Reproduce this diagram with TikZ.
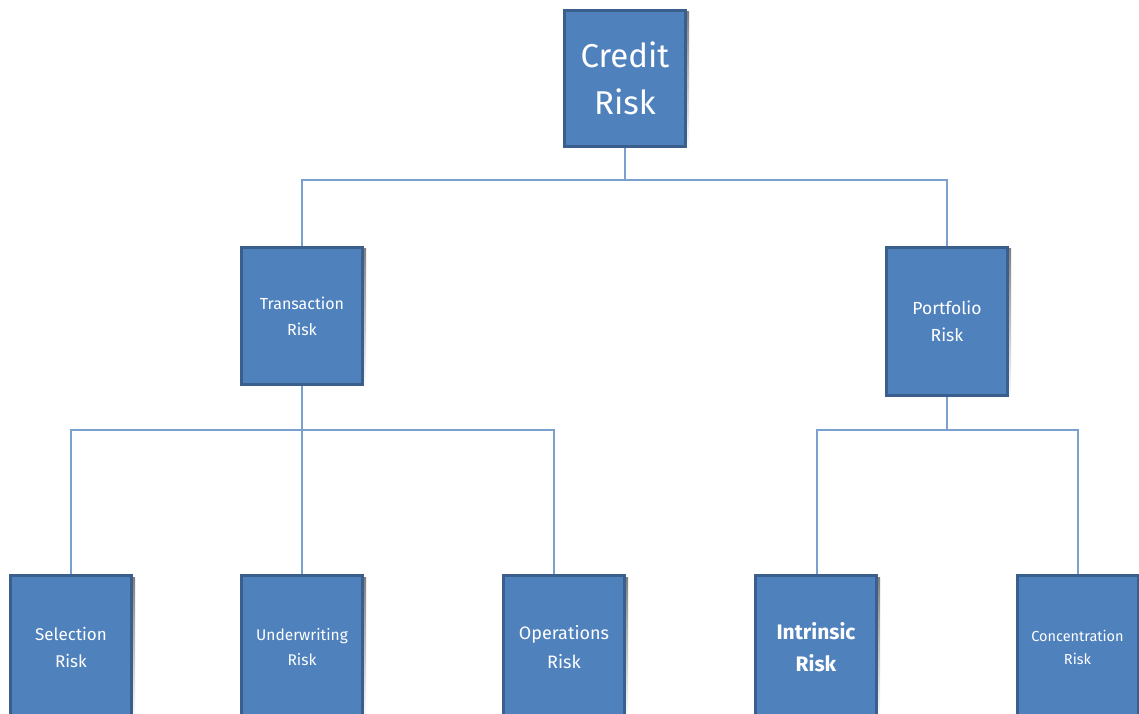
\documentclass[tikz,border=0pt]{standalone}
\usepackage{fontspec}
\setmainfont{Fira Sans}
\definecolor{boxfill}{HTML}{4F81BD}
\definecolor{boxedge}{HTML}{3A5F8D}
\definecolor{shade}{HTML}{B3BECE}
\definecolor{linec}{HTML}{7BA0CD}
\begin{document}
\begin{tikzpicture}[x=1pt,y=-1pt,
  riskbox/.style={draw=boxedge, line width=3pt, fill=boxfill, text=white,
    align=center, inner sep=0pt, minimum width=121pt},
  conn/.style={draw=linec, line width=2pt}]
\useasboundingbox (0,0) rectangle (1139,713);
\begin{scope}
\clip (0,0) rectangle (1139,713);
% shadows
\foreach \a/\b/\c/\d in {565/11/689/150, 242/248/366/388, 887/248/1011/399, 11/577/135/720, 242/577/366/720, 504/577/628/720, 756/577/880/720, 1018/577/1142/720}
  \fill[shade] (\a,\b) rectangle (\c,\d);
\node[riskbox, minimum height=136pt, font=\fontsize{33}{47}\selectfont] (credit) at (625,78.5) {Credit\\Risk};
\node[riskbox, minimum height=137pt, font=\fontsize{16}{26}\selectfont] (trans) at (302,316) {Transaction\\Risk};
\node[riskbox, minimum height=148pt, font=\fontsize{17.5}{27}\selectfont] (port) at (947,321.5) {Portfolio\\Risk};
\node[riskbox, minimum height=145pt, font=\fontsize{17}{27}\selectfont] (sel) at (71,647.5) {Selection\\Risk};
\node[riskbox, minimum height=145pt, font=\fontsize{15.5}{25}\selectfont] (und) at (302,647.5) {Underwriting\\Risk};
\node[riskbox, minimum height=145pt, font=\fontsize{18}{29}\selectfont] (ops) at (564,647.5) {Operations\\Risk};
\node[riskbox, minimum height=145pt, font=\bfseries\fontsize{21}{32}\selectfont] (intr) at (816,647.5) {Intrinsic\\Risk};
\node[riskbox, minimum height=145pt, font=\fontsize{14.5}{23}\selectfont] (conc) at (1077.5,647.5) {Concentration\\Risk};
\end{scope}
\draw[conn] (credit.south) -- ++(0,32) -| (trans.north);
\draw[conn] (credit.south) -- ++(0,32) -| (port.north);
\draw[conn] (trans.south) -- ++(0,44) -| (sel.north);
\draw[conn] (trans.south) -- (und.north);
\draw[conn] (trans.south) -- ++(0,44) -| ([xshift=-10pt]ops.north);
\draw[conn] (port.south) -- ++(0,33) -| ([xshift=1pt]intr.north);
\draw[conn] (port.south) -- ++(0,33) -| (conc.north);
\end{tikzpicture}
\end{document}
